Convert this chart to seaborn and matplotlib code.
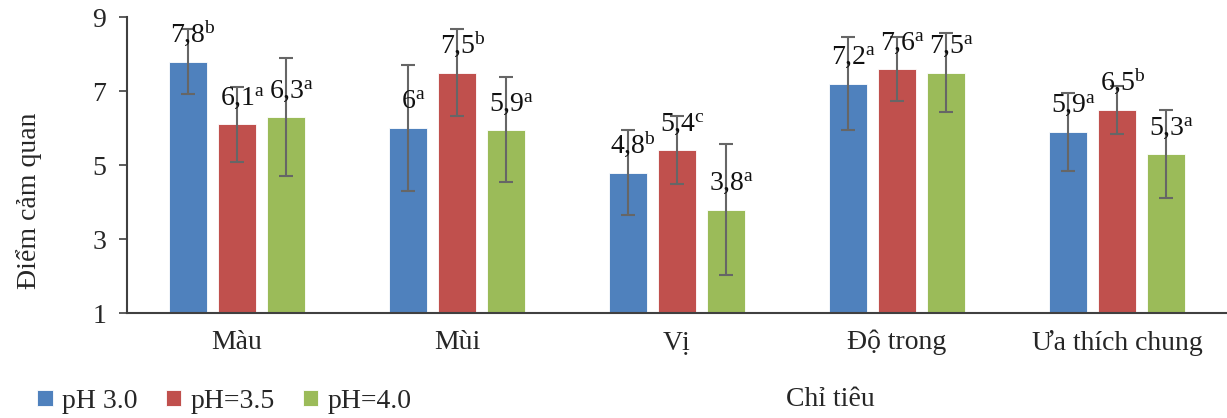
import pandas as pd
import seaborn as sns
import matplotlib.pyplot as plt

# data
categories = ["Màu", "Mùi", "Vị", "Độ trong", "Ưa thích chung"]
groups = ["pH 3.0", "pH=3.5", "pH=4.0"]

ph30 = [7.8, 6.0, 4.8, 7.2, 5.9]
ph35 = [6.1, 7.5, 5.4, 7.6, 6.5]
ph40 = [6.3, 5.95, 3.8, 7.5, 5.3]

err30 = [0.87, 1.7, 1.16, 1.26, 1.06]
err35 = [1.02, 1.18, 0.92, 0.87, 0.65]
err40 = [1.6, 1.42, 1.78, 1.06, 1.2]

lab30 = ["7,8", "6", "4,8", "7,2", "5,9"]
lab35 = ["6,1", "7,5", "5,4", "7,6", "6,5"]
lab40 = ["6,3", "5,9", "3,8", "7,5", "5,3"]

sig30 = ["b", "a", "b", "a", "a"]
sig35 = ["a", "b", "c", "a", "b"]
sig40 = ["a", "a", "a", "a", "a"]

colors = ["#4F81BD", "#C0504D", "#9BBB59"]

sns.set_style("white")
plt.rcParams["font.family"] = ["Liberation Serif", "DejaVu Serif"]
plt.rcParams["mathtext.fontset"] = "custom"
plt.rcParams["mathtext.rm"] = "Liberation Serif"
plt.rcParams["mathtext.it"] = "Liberation Serif"

df = pd.DataFrame({
    "cat": categories * 3,
    "group": [g for g in groups for _ in categories],
    "value": ph30 + ph35 + ph40,
})

fig, ax = plt.subplots(figsize=(12.27, 4.18), dpi=100)
fig.subplots_adjust(left=0.1035, right=1.0, bottom=0.251, top=0.959)

sns.barplot(data=df, x="cat", y="value", hue="group", order=categories,
            hue_order=groups, palette=colors, errorbar=None,
            width=0.67, gap=0.22, saturation=1, ax=ax,
            edgecolor="white", linewidth=0.6)

errs = [err30, err35, err40]
labs = [lab30, lab35, lab40]
sigs = [sig30, sig35, sig40]
for cont, e, lab, sig in zip(ax.containers, errs, labs, sigs):
    for i, p in enumerate(cont.patches):
        xc = p.get_x() + p.get_width() / 2
        h = p.get_height()
        ax.errorbar(xc, h, yerr=e[i], fmt="none", ecolor="#666666",
                    elinewidth=1.5, capsize=5, capthick=1.5, zorder=3)
        ax.annotate(lab[i] + r"$^{\mathrm{" + sig[i] + "}}$", (xc, h),
                    xytext=(4, 14), textcoords="offset points",
                    ha="center", va="baseline", fontsize=20, color="#111111",
                    zorder=4)

ax.set_ylim(1, 9)
ax.set_xlim(-0.5, 4.5)
ax.set_yticks([1, 3, 5, 7, 9])
ax.tick_params(axis="y", direction="out", length=6, width=1.2,
               color="#404040", labelsize=20, pad=9, left=True)
ax.tick_params(axis="x", length=0, labelsize=20, pad=12)

sns.despine(ax=ax)
for s in ["left", "bottom"]:
    ax.spines[s].set_color("#404040")
    ax.spines[s].set_linewidth(1.5)

ax.set_ylabel("Điểm cảm quan", fontsize=20)
ax.yaxis.set_label_coords(-0.077, 0.38)
ax.set_xlabel("Chỉ tiêu", fontsize=20)
ax.xaxis.set_label_coords(0.639, -0.25)

handles, labels = ax.get_legend_handles_labels()
ax.legend_.remove()
fig.legend(handles, labels, loc="lower left", bbox_to_anchor=(0.01, -0.05),
           ncol=3, frameon=False, fontsize=20, handlelength=0.55,
           handleheight=0.55, handletextpad=0.35, columnspacing=1.0)

fig.savefig("out.png", dpi=100)
